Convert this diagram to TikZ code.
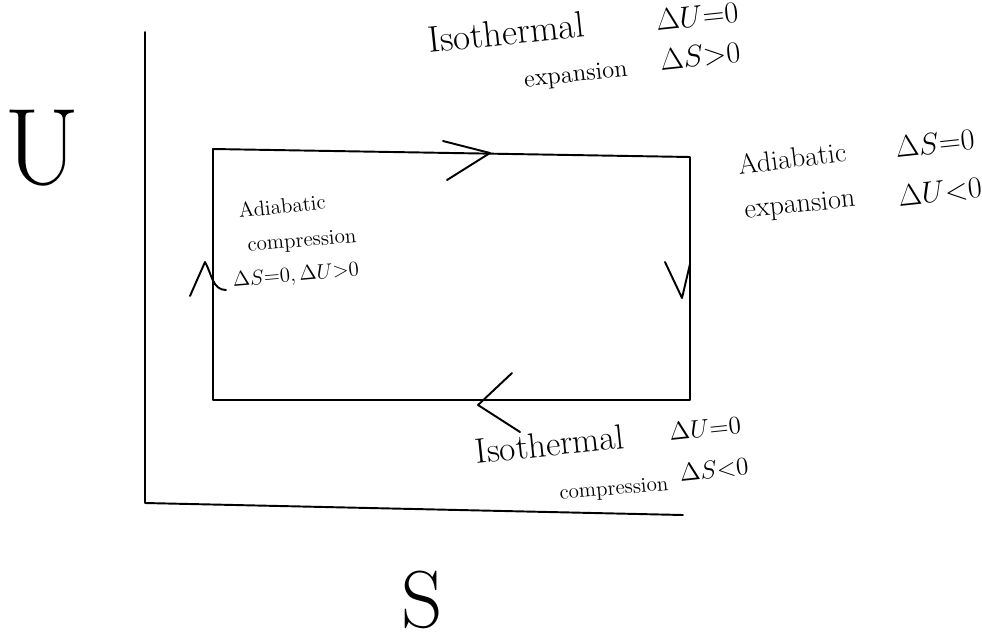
\documentclass[tikz,border=0pt]{standalone}
\usepackage{fontspec}
\tikzset{
  pen/.style={line width=1.1pt, line cap=round, line join=round},
  note/.style={inner sep=0pt, anchor=center},
}
\begin{document}
\begin{tikzpicture}[x=0.02cm, y=-0.02cm]
\useasboundingbox (0,0) rectangle (982,643);

% axes
\coordinate (top) at (145,32);
\coordinate (origin) at (145,503);
\coordinate (right) at (683,515);
\draw[pen] (top) -- (origin) -- (right);

\node[note, font=\fontsize{62}{62}\selectfont] (ulabel) at (42,148) {U};
\node[note, font=\fontsize{46}{46}\selectfont] (slabel) at (422,600) {S};

% cycle
\coordinate (a) at (213,149);
\coordinate (b) at (690,157);
\coordinate (c) at (690,400);
\coordinate (d) at (213,400);
\draw[pen] (a) -- (b) -- (c) -- (d) -- cycle;

% direction marks
\draw[pen] (443,141) -- (490,153) -- (447,180);
\draw[pen] (665,262) -- (682,298) -- (690,264);
\draw[pen] (190,296) -- (205,262) to[out=-60,in=180] (226,290);
\draw[pen] (512,373) -- (478,405) -- (520,432);

% top
\node[note, rotate=6, font=\fontsize{21}{21}\selectfont] (isoexp) at (506,32) {Isothermal};
\node[note, rotate=6, font=\fontsize{14}{14}\selectfont] (isoexp2) at (576,76) {expansion};
\node[note, rotate=6, font=\fontsize{16}{16}\selectfont] (isoexpu) at (697,16) {$\Delta U{=}0$};
\node[note, rotate=6, font=\fontsize{16}{16}\selectfont] (isoexps) at (700,56) {$\Delta S{>}0$};

% right
\node[note, rotate=7, font=\fontsize{16}{16}\selectfont] (adexp) at (792,158) {Adiabatic};
\node[note, rotate=6, font=\fontsize{16}{16}\selectfont] (adexp2) at (800,206) {expansion};
\node[note, rotate=6, font=\fontsize{16}{16}\selectfont] (adexps) at (935,143) {$\Delta S{=}0$};
\node[note, rotate=6, font=\fontsize{16}{16}\selectfont] (adexpu) at (940,192) {$\Delta U{<}0$};

% left
\node[note, rotate=6, font=\fontsize{12}{12}\selectfont] (adcomp) at (282,206) {Adiabatic};
\node[note, rotate=5, font=\fontsize{12}{12}\selectfont] (adcomp2) at (302,242) {compression};
\node[note, rotate=5, font=\fontsize{12}{12}\selectfont] (adcomp3) at (296,276) {$\Delta S{=}0,\Delta U{>}0$};

% bottom
\node[note, rotate=6, font=\fontsize{20}{20}\selectfont] (isocomp) at (550,444) {Isothermal};
\node[note, rotate=5, font=\fontsize{12}{12}\selectfont] (isocomp2) at (614,490) {compression};
\node[note, rotate=6, font=\fontsize{15}{15}\selectfont] (isocompu) at (705,428) {$\Delta U{=}0$};
\node[note, rotate=6, font=\fontsize{15}{15}\selectfont] (isocomps) at (714,470) {$\Delta S{<}0$};

\end{tikzpicture}
\end{document}
